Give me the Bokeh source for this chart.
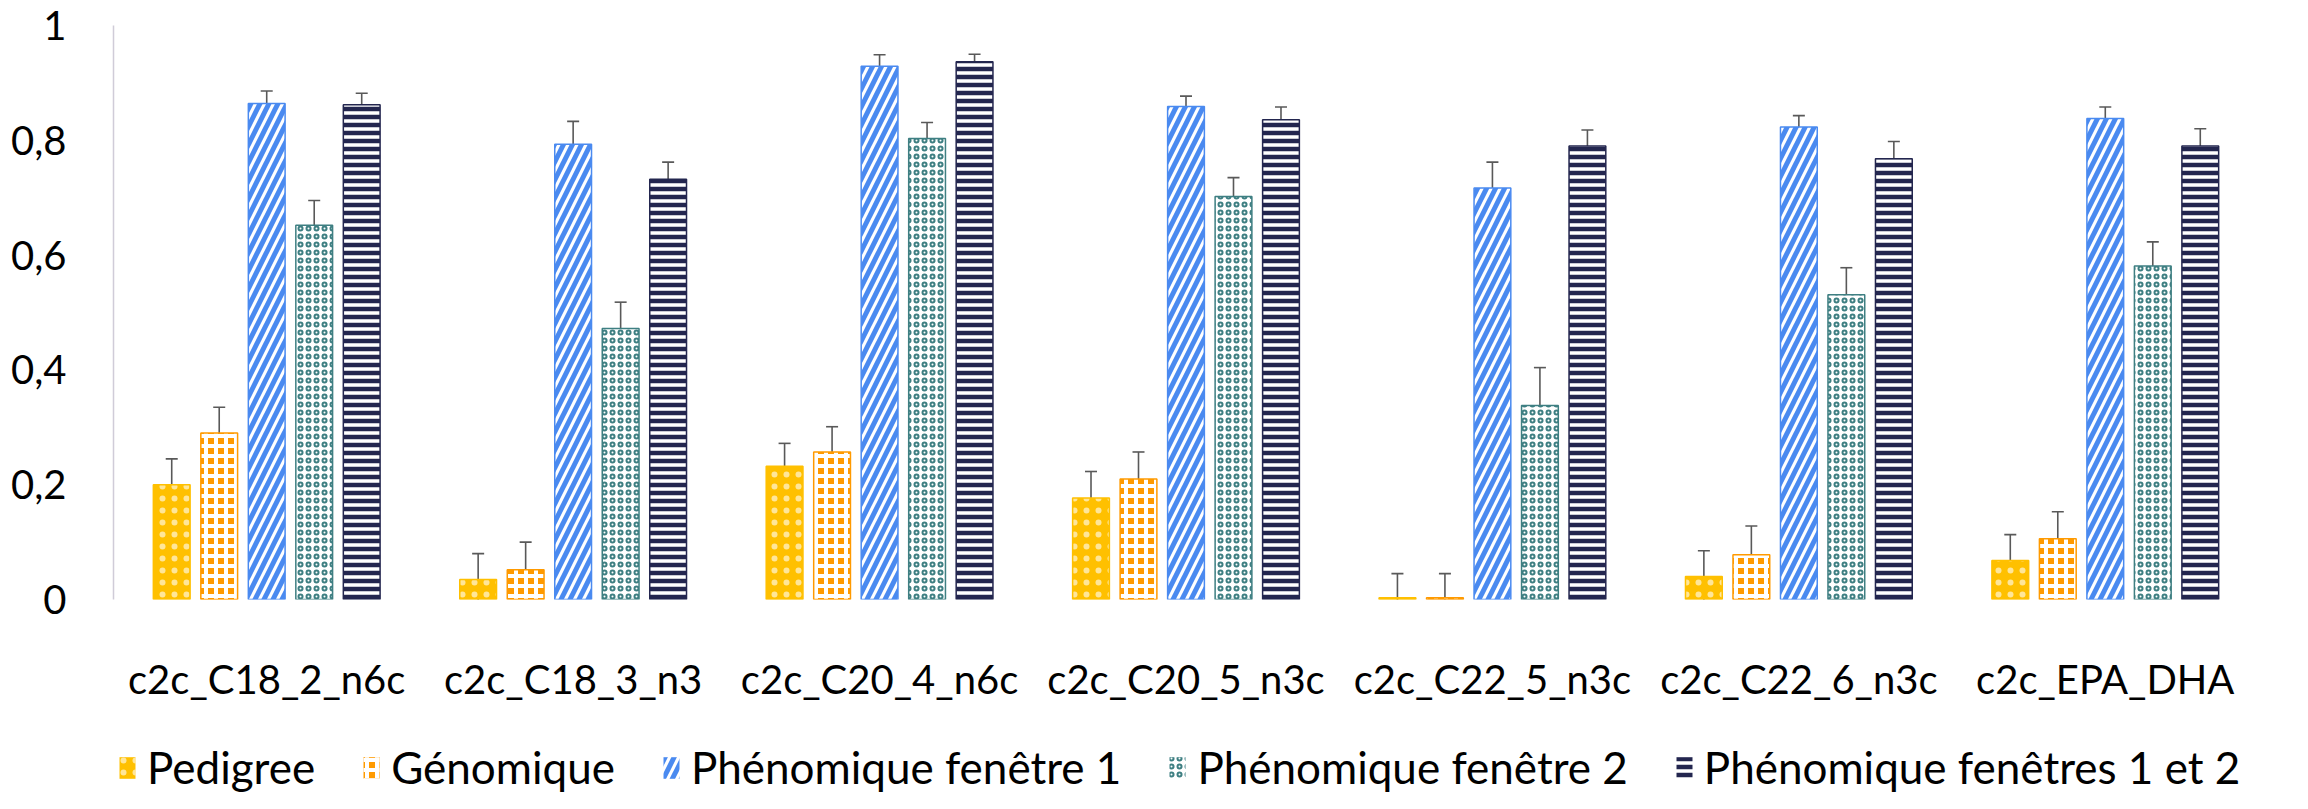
import numpy as np
from bokeh.plotting import figure
from bokeh.layouts import column
from bokeh.models import (ColumnDataSource, FactorRange, FixedTicker,
                          CustomJSTickFormatter, Whisker, TeeHead, Legend, LegendItem)
from bokeh.transform import dodge
from bokeh.embed import file_html
from bokeh.resources import INLINE

categories = ["c2c_C18_2_n6c", "c2c_C18_3_n3", "c2c_C20_4_n6c", "c2c_C20_5_n3c",
              "c2c_C22_5_n3c", "c2c_C22_6_n3c", "c2c_EPA_DHA"]
series_names = ["Pedigree", "Génomique", "Phénomique fenêtre 1",
                "Phénomique fenêtre 2", "Phénomique fenêtres 1 et 2"]

pedigree = [0.200, 0.035, 0.232, 0.177, 0.003, 0.040, 0.068]
pedigree_err = [0.045, 0.045, 0.040, 0.046, 0.042, 0.045, 0.045]
genomique = [0.290, 0.052, 0.257, 0.210, 0.003, 0.078, 0.106]
genomique_err = [0.045, 0.048, 0.044, 0.047, 0.042, 0.050, 0.047]
phen1 = [0.864, 0.793, 0.929, 0.859, 0.717, 0.823, 0.838]
phen1_err = [0.022, 0.040, 0.020, 0.018, 0.045, 0.020, 0.020]
phen2 = [0.652, 0.472, 0.803, 0.702, 0.338, 0.531, 0.581]
phen2_err = [0.043, 0.046, 0.028, 0.033, 0.066, 0.047, 0.042]
phen12 = [0.862, 0.732, 0.937, 0.836, 0.790, 0.768, 0.790]
phen12_err = [0.020, 0.030, 0.013, 0.022, 0.028, 0.030, 0.030]

y_ticks = [0, 0.2, 0.4, 0.6, 0.8, 1.0]

series_values = [pedigree, genomique, phen1, phen2, phen12]
series_errors = [pedigree_err, genomique_err, phen1_err, phen2_err, phen12_err]

offsets = [-0.31, -0.155, 0.0, 0.155, 0.31]
styles = [
    dict(fill_color="#FFC000", line_color="#FFC000", hatch_pattern=".",
         hatch_color="white", hatch_scale=12, hatch_weight=0.3, hatch_alpha=0.6),
    dict(fill_color="#FF9A00", line_color="#FF9A00", hatch_pattern="+",
         hatch_color="white", hatch_scale=10, hatch_weight=4),
    dict(fill_color="white", line_color="#4A8AF0", hatch_pattern="/",
         hatch_color="#4A8AF0", hatch_scale=18, hatch_weight=5),
    dict(fill_color="white", line_color="#3E7F82", hatch_pattern="o",
         hatch_color="#3E7F82", hatch_scale=8, hatch_weight=2),
    dict(fill_color="white", line_color="#23264F", hatch_pattern="-",
         hatch_color="#23264F", hatch_scale=8, hatch_weight=4.5),
]

FONT = "Lato"
W = 2292
H_MAIN = 711
H_LEG = 82

p = figure(x_range=FactorRange(*categories), y_range=(0, 1),
           width=W, height=H_MAIN,
           min_border_left=113, min_border_top=25, min_border_right=34,
           min_border_bottom=112,
           output_backend="svg", toolbar_location=None)

p.xgrid.grid_line_color = None
p.ygrid.grid_line_color = None
p.outline_line_color = None

for vals, errs, off, st in zip(series_values, series_errors, offsets, styles):
    v = np.array(vals)
    e = np.array(errs)
    src = ColumnDataSource(dict(cat=categories, top=v, upper=v + e, lower=v - e))
    p.vbar(x=dodge("cat", off, range=p.x_range), top="top", width=0.12, source=src,
           line_width=1.5, **st)
    w = Whisker(source=src, base=dodge("cat", off, range=p.x_range), upper="upper",
                lower="lower", dimension="height", line_color="#595959", line_width=1.6,
                upper_head=TeeHead(size=12, line_color="#595959", line_width=1.6),
                lower_head=TeeHead(size=12, line_color="#595959", line_width=1.6))
    p.add_layout(w)

# y axis
p.yaxis.ticker = FixedTicker(ticks=y_ticks)
p.yaxis.formatter = CustomJSTickFormatter(
    code="if (tick == 0) return '0'; if (tick == 1) return '1'; return tick.toFixed(1).replace('.', ',');")
p.yaxis.axis_line_color = "#D0CCD8"
p.yaxis.axis_line_width = 1.5
p.yaxis.major_tick_line_color = None
p.yaxis.major_tick_out = 0
p.yaxis.minor_tick_line_color = None
p.yaxis.major_label_text_font = FONT
p.yaxis.major_label_text_font_size = "40px"
p.yaxis.major_label_text_color = "black"
p.yaxis.major_label_standoff = 47

# x axis
p.xaxis.axis_line_color = None
p.xaxis.major_tick_line_color = None
p.xaxis.major_tick_out = 0
p.xaxis.minor_tick_line_color = None
p.xaxis.major_label_text_font = FONT
p.xaxis.major_label_text_font_size = "40px"
p.xaxis.major_label_text_color = "black"
p.xaxis.major_label_standoff = 55

# legend strip below the chart; its proxy glyphs lie outside the visible range
pl = figure(width=W, height=H_LEG, x_range=(0, 1), y_range=(0, 1),
            x_axis_location=None, y_axis_location=None,
            output_backend="svg", toolbar_location=None)
pl.min_border = 0
pl.min_border_left = 0
pl.min_border_right = 0
pl.min_border_top = 0
pl.min_border_bottom = 0
pl.xgrid.grid_line_color = None
pl.ygrid.grid_line_color = None
pl.outline_line_color = None

items = []
for name, st in zip(series_names, styles):
    proxy_style = dict(st)
    proxy_style["line_color"] = None
    r = pl.vbar(x=[-10], top=[-2], bottom=[-1], width=0.1, **proxy_style)
    items.append(LegendItem(label=name, renderers=[r]))

leg = Legend(items=items, orientation="horizontal", location=(4, 0))
leg.label_text_font = FONT
leg.label_text_font_size = "44px"
leg.label_text_color = "black"
leg.glyph_width = 20
leg.glyph_height = 27
leg.label_standoff = 10
leg.spacing = 46
leg.padding = 0
leg.margin = 0
leg.border_line_alpha = 0
leg.background_fill_alpha = 0
pl.add_layout(leg, "center")

layout = column(p, pl, spacing=0)

open("out.html", "w").write(file_html(layout, INLINE))
